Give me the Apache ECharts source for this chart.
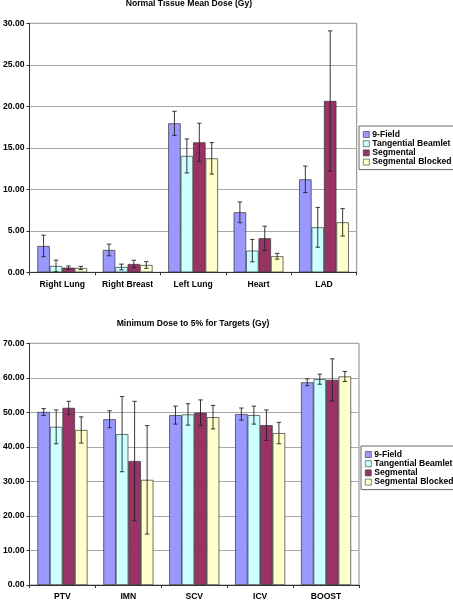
<!DOCTYPE html>
<html>
<head>
<meta charset="utf-8">
<script src="https://cdn.jsdelivr.net/npm/echarts@6/dist/echarts.min.js"></script>
<style>
html,body{margin:0;padding:0;background:#fff;}
#chart{width:453px;height:601px;}
</style>
</head>
<body>
<div id="chart"></div>
<script>
// ---- Data ----
const seriesNames = ['9-Field', 'Tangential Beamlet', 'Segmental', 'Segmental Blocked'];

const categories1 = ['Right Lung', 'Right Breast', 'Left Lung', 'Heart', 'LAD'];
const field9Mean1 = [3.17, 2.69, 17.95, 7.23, 11.2];
const field9Err1  = [1.3, 0.7, 1.45, 1.25, 1.6];
const tangMean1   = [0.76, 0.64, 14.02, 2.61, 5.42];
const tangErr1    = [0.7, 0.35, 2.05, 1.35, 2.4];
const segMean1    = [0.56, 1.0, 15.66, 4.10, 20.64];
const segErr1     = [0.2, 0.45, 2.3, 1.45, 8.45];
const segBlkMean1 = [0.52, 0.88, 13.73, 1.93, 6.02];
const segBlkErr1  = [0.2, 0.4, 1.9, 0.35, 1.65];

const categories2 = ['PTV', 'IMN', 'SCV', 'ICV', 'BOOST'];
const field9Mean2 = [50.1, 48.0, 49.2, 49.5, 58.7];
const field9Err2  = [1.0, 2.45, 2.6, 1.75, 1.0];
const tangMean2   = [45.8, 43.7, 49.4, 49.2, 59.6];
const tangErr2    = [4.9, 10.9, 3.1, 2.6, 1.45];
const segMean2    = [51.3, 35.9, 49.9, 46.3, 59.4];
const segErr2     = [1.9, 17.3, 3.7, 4.4, 6.1];
const segBlkMean2 = [44.9, 30.45, 48.6, 44.0, 60.4];
const segBlkErr2  = [3.8, 15.7, 3.4, 3.1, 1.45];

const title1 = 'Normal Tissue Mean Dose (Gy)';
const title2 = 'Minimum Dose to 5% for Targets (Gy)';

// ---- Styles ----
const colors = ['#9999FF', '#CCFFFF', '#993366', '#FFFFCC'];
const FONT = '"Liberation Sans", Arial, sans-serif';
const FS = 8.6;
const CAT_GAP = 0.24;

const chart = echarts.init(document.getElementById('chart'), null, {renderer: 'canvas'});

function errSeries(means, errs, k, gi) {
  return {
    type: 'custom',
    xAxisIndex: gi, yAxisIndex: gi, z: 5, silent: true,
    data: means.map((m, i) => [i, m - errs[i], m + errs[i]]),
    renderItem: function (params, api) {
      const cat = api.value(0);
      const lo = api.coord([cat, api.value(1)]);
      const hi = api.coord([cat, api.value(2)]);
      const w = api.size([1, 0])[0];
      const bw = w * (1 - CAT_GAP) / 4;
      const x = lo[0] - w * (1 - CAT_GAP) / 2 + (k + 0.5) * bw;
      const cap = 2.2;
      const st = {stroke: '#222', lineWidth: 0.9};
      return {
        type: 'group',
        children: [
          {type: 'line', shape: {x1: x, y1: lo[1], x2: x, y2: hi[1]}, style: st},
          {type: 'line', shape: {x1: x - cap, y1: hi[1], x2: x + cap, y2: hi[1]}, style: st},
          {type: 'line', shape: {x1: x - cap, y1: lo[1], x2: x + cap, y2: lo[1]}, style: st}
        ]
      };
    }
  };
}

function barSeries(name, data, k, gi) {
  return {
    name: name, type: 'bar', xAxisIndex: gi, yAxisIndex: gi,
    data: data,
    barGap: '0%', barCategoryGap: (CAT_GAP * 100) + '%',
    itemStyle: {color: colors[k], borderColor: '#333', borderWidth: 0.7},
    emphasis: {disabled: true}
  };
}

function xAxis(cats, gi, margin) {
  return {
    type: 'category', gridIndex: gi, data: cats,
    axisLine: {lineStyle: {color: '#333', width: 1}},
    axisTick: {show: true, length: 3, lineStyle: {color: '#333'}},
    axisLabel: {interval: 0, fontFamily: FONT, fontWeight: 'bold', fontSize: FS, color: '#000', margin: margin}
  };
}
function yAxis(max, interval, gi) {
  return {
    type: 'value', gridIndex: gi, min: 0, max: max, interval: interval,
    axisLine: {show: true, lineStyle: {color: '#333', width: 1}},
    axisTick: {show: true, length: 3, lineStyle: {color: '#333'}},
    splitLine: {show: true, lineStyle: {color: '#a8a8a8', width: 1}},
    axisLabel: {fontFamily: FONT, fontWeight: 'bold', fontSize: FS, color: '#000', margin: 5,
                formatter: v => v.toFixed(2)}
  };
}
function legend(top, left) {
  return {
    data: seriesNames, orient: 'vertical', left: left, top: top,
    itemWidth: 6, itemHeight: 6, itemGap: 0.2,
    icon: 'rect', selectedMode: false,
    borderColor: '#666', borderWidth: 1, padding: [4, 6, 3, 4],
    backgroundColor: '#fff',
    itemStyle: {borderColor: '#333', borderWidth: 0.6},
    textStyle: {fontFamily: FONT, fontWeight: 'bold', fontSize: FS, color: '#000', lineHeight: 9, padding: [0, 0, 0, -2]}
  };
}

const option = {
  animation: false,
  backgroundColor: '#fff',
  title: [
    {text: title1, left: 189, top: -1, padding: 0, textAlign: 'center',
     textStyle: {fontFamily: FONT, fontWeight: 'bold', fontSize: FS, color: '#000'}},
    {text: title2, left: 193, top: 319, padding: 0, textAlign: 'center',
     textStyle: {fontFamily: FONT, fontWeight: 'bold', fontSize: FS, color: '#000'}}
  ],
  legend: [legend(126, 359), legend(446, 361)],
  grid: [
    {left: 27, top: 23.3, right: 96.3, bottom: 328.7, show: true, borderColor: '#888', borderWidth: 1},
    {left: 25.7, top: 343.3, right: 94, bottom: 15, show: true, borderColor: '#888', borderWidth: 1}
  ],
  xAxis: [xAxis(categories1, 0, 8), xAxis(categories2, 1, 7)],
  yAxis: [yAxis(30, 5, 0), yAxis(70, 10, 1)],
  series: [
    barSeries(seriesNames[0], field9Mean1, 0, 0),
    barSeries(seriesNames[1], tangMean1, 1, 0),
    barSeries(seriesNames[2], segMean1, 2, 0),
    barSeries(seriesNames[3], segBlkMean1, 3, 0),
    barSeries(seriesNames[0], field9Mean2, 0, 1),
    barSeries(seriesNames[1], tangMean2, 1, 1),
    barSeries(seriesNames[2], segMean2, 2, 1),
    barSeries(seriesNames[3], segBlkMean2, 3, 1),
    errSeries(field9Mean1, field9Err1, 0, 0),
    errSeries(tangMean1, tangErr1, 1, 0),
    errSeries(segMean1, segErr1, 2, 0),
    errSeries(segBlkMean1, segBlkErr1, 3, 0),
    errSeries(field9Mean2, field9Err2, 0, 1),
    errSeries(tangMean2, tangErr2, 1, 1),
    errSeries(segMean2, segErr2, 2, 1),
    errSeries(segBlkMean2, segBlkErr2, 3, 1)
  ]
};
chart.setOption(option);
</script>
</body>
</html>
